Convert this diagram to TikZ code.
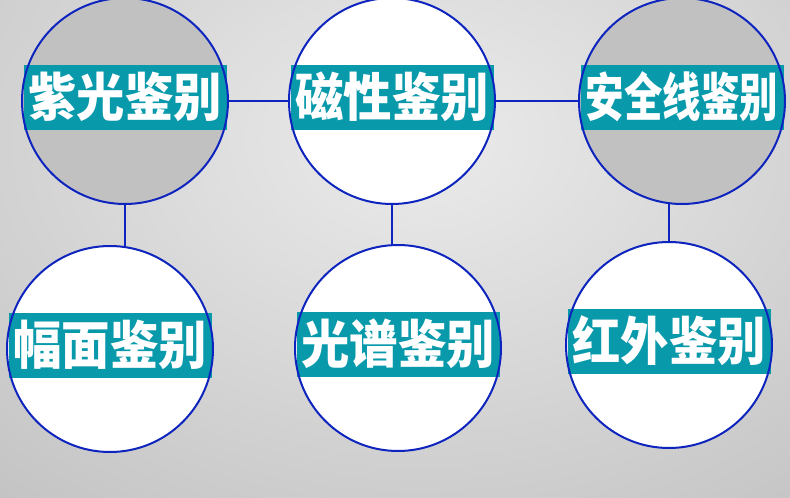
\documentclass[tikz,border=0pt]{standalone}
\usepackage{fontspec}
\newfontfamily\cjk{Noto Sans CJK SC}
\usetikzlibrary{positioning}
\definecolor{bglight}{HTML}{EBEBEB}
\definecolor{bggray}{HTML}{C1C1C1}
\definecolor{ringblue}{HTML}{0E24BE}
\definecolor{bandteal}{HTML}{0899AB}
\newcommand{\narrow}[2]{\scalebox{#1}[1]{#2}}

\begin{document}
\begin{tikzpicture}[x=1pt, y=-1pt,
    disc/.style={circle, minimum size=206pt, inner sep=0pt, fill=white},
    band/.style={fill=bandteal, minimum width=203pt, minimum height=65pt, inner sep=0pt,
        text=white, font=\cjk\bfseries\fontsize{52}{52}\selectfont},
    ring/.style={draw=ringblue, line width=2pt},
    link/.style={draw=ringblue, line width=2pt}]
    \useasboundingbox (0,0) rectangle (790,498);
    \clip (0,0) rectangle (790,498);

    % 背景
    \fill[bggray] (0,0) rectangle (790,498);
    \shade[inner color=bglight, outer color=bggray] (420,140) ellipse (700pt and 500pt);

    % 圆
    \node[disc, fill=bggray] (uv) at (125,101) {};
    \node[disc] (mag) at (392,101) {};
    \node[disc, fill=bggray] (sec) at (682,101) {};
    \node[disc] (size) at (110,349) {};
    \node[disc] (spec) at (398,348) {};
    \node[disc] (ir) at (669,345) {};

    % 连线
    \draw[link] (uv) -- (mag);
    \draw[link] (mag) -- (sec);
    \draw[link] (uv.south) -- (uv.south |- size.north);
    \draw[link] (mag.south) -- (mag.south |- spec.north);
    \draw[link] (ir.north |- sec.south) -- (ir.north);

    % 标签
    \node[band, yshift=4pt] (uvtxt) at (uv) {\narrow{0.93}{紫光鉴别}};
    \node[band, yshift=4pt] (magtxt) at (mag) {\narrow{0.93}{磁性鉴别}};
    \node[band, yshift=4pt] (sectxt) at (sec) {\narrow{0.74}{安全线鉴别}};
    \node[band, yshift=4pt] (sizetxt) at (size) {\narrow{0.93}{幅面鉴别}};
    \node[band, yshift=4pt] (spectxt) at (spec) {\narrow{0.93}{光谱鉴别}};
    \node[band, yshift=4pt] (irtxt) at (ir) {\narrow{0.93}{红外鉴别}};

    % 圆边
    \foreach \c in {uv, mag, sec, size, spec, ir}
        \draw[ring] (\c.center) circle (103pt);
\end{tikzpicture}
\end{document}
